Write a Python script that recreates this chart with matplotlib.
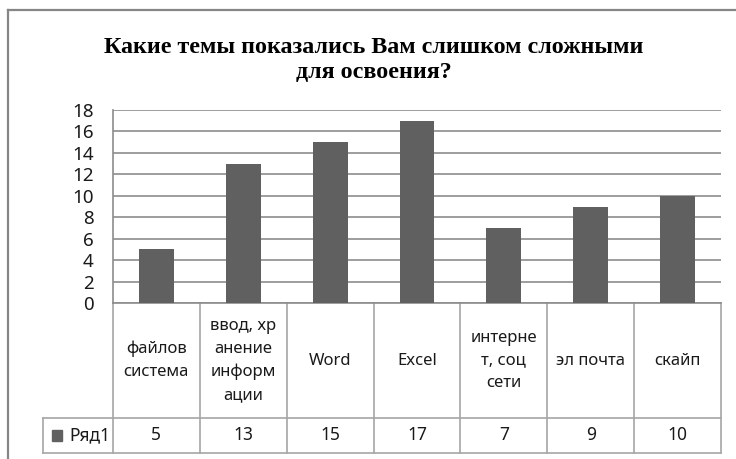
import matplotlib
matplotlib.use("Agg")
import matplotlib.pyplot as plt
from matplotlib.lines import Line2D
from matplotlib.patches import Rectangle

# data
categories = ["файлов\nсистема", "ввод, хр\nанение\nинформ\nации", "Word", "Excel",
              "интерне\nт, соц\nсети", "эл почта", "скайп"]
values = [5, 13, 15, 17, 7, 9, 10]
series_name = "Ряд1"
yticks = list(range(0, 19, 2))

W, H = 736, 459
bar_color = "#606060"
grid_color = "#8c8c8c"
table_color = "#a6a6a6"
font = "Noto Sans"

fig = plt.figure(figsize=(W / 100, H / 100), dpi=100)


def px(x, y):
    # pixel position (top-left origin) -> figure fraction
    return x / W, 1 - y / H


# outer chart frame (right/bottom edges lie outside the picture)
fig.add_artist(Line2D([px(8, 0)[0]] * 2, [px(0, 10)[1], 0], transform=fig.transFigure,
                      color="#868686", lw=1.6))
fig.add_artist(Line2D([px(8, 0)[0], 1], [px(0, 10)[1]] * 2, transform=fig.transFigure,
                      color="#868686", lw=1.6))

left, top = px(113, 110)
right, bottom = px(721, 303)
ax = fig.add_axes([left, bottom, right - left, top - bottom])

x = list(range(len(values)))
ax.bar(x, values, width=0.4, color=bar_color, zorder=3)
ax.set_xlim(-0.5, len(values) - 0.5)
ax.set_ylim(0, 18)
ax.set_yticks(yticks)
ax.yaxis.grid(True, color=grid_color, lw=1.2)
ax.set_axisbelow(True)
ax.set_xticks([])
ax.tick_params(axis="y", length=0, pad=14, labelsize=13.5, labelcolor="#1a1a1a")
for lbl in ax.get_yticklabels():
    lbl.set_fontfamily(font)
for s in ["top", "right"]:
    ax.spines[s].set_visible(False)
ax.spines["left"].set_color(grid_color)
ax.spines["left"].set_linewidth(1.2)
ax.spines["bottom"].set_color(grid_color)
ax.spines["bottom"].set_linewidth(1.2)

# data table under the axis
tr = ax.get_xaxis_transform()
row1, row2 = -0.596, -0.777
leg_left = -1.305
n = len(values)


def hline(x0, x1, y):
    ax.add_line(Line2D([x0, x1], [y, y], transform=tr, color=table_color, lw=1.2, clip_on=False))


def vline(xx, y0, y1):
    ax.add_line(Line2D([xx, xx], [y0, y1], transform=tr, color=table_color, lw=1.2, clip_on=False))


hline(leg_left, n - 0.5, row1)
hline(leg_left, n - 0.5, row2)
for i in range(n + 1):
    vline(i - 0.5, 0, row2)
vline(leg_left, row1, row2)

for i, (c, v) in enumerate(zip(categories, values)):
    ax.text(i, row1 / 2, c, transform=tr, ha="center", va="center", fontsize=12,
            family=font, linespacing=1.55, color="#1a1a1a")
    ax.text(i, (row1 + row2) / 2, str(v), transform=tr, ha="center", va="center",
            fontsize=12.5, family=font, color="#1a1a1a")

# legend key inside the first cell
ax.add_patch(Rectangle((-1.2, (row1 + row2) / 2 - 0.028), 0.115, 0.056, transform=tr,
                       color=bar_color, clip_on=False))
ax.text(-0.53, (row1 + row2) / 2, series_name, transform=tr, ha="right", va="center",
        fontsize=12.5, family=font, color="#1a1a1a")

fig.text(374 / W, 1 - 60 / H, "Какие темы показались Вам слишком сложными\nдля освоения?",
         ha="center", va="center", fontsize=17.3, family="Liberation Serif",
         weight="bold", linespacing=1.2)

fig.savefig("out.png", dpi=100)
